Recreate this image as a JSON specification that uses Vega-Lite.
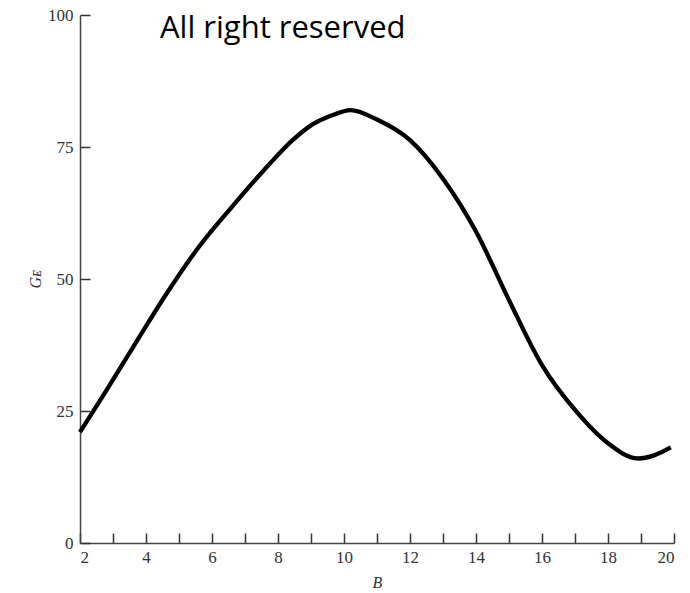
{
  "$schema": "https://vega.github.io/schema/vega-lite/v6.json",
  "autosize": {"type": "none"},
  "padding": {"left": 80, "top": 15, "right": 16, "bottom": 50},
  "width": 594,
  "height": 528,
  "background": "white",
  "title": {"text": "All right reserved", "anchor": "start", "frame": "group", "dx": 80, "dy": 63, "offset": 0, "baseline": "alphabetic", "font": "Open Sans", "fontSize": 31, "fontWeight": "normal", "color": "black"},
  "data": {"values": [
    {"B": 2, "G": 21},
    {"B": 2.81, "G": 29.0},
    {"B": 3.62, "G": 37.2},
    {"B": 4.63, "G": 47.3},
    {"B": 5.64, "G": 56.4},
    {"B": 6.65, "G": 64.0},
    {"B": 7.66, "G": 71.2},
    {"B": 8.41, "G": 76.1},
    {"B": 9, "G": 79.1},
    {"B": 9.6, "G": 80.9},
    {"B": 10.2, "G": 82},
    {"B": 11, "G": 80.2},
    {"B": 12, "G": 76.3},
    {"B": 13, "G": 69},
    {"B": 14, "G": 59},
    {"B": 15, "G": 46},
    {"B": 16, "G": 33.7},
    {"B": 17, "G": 25.2},
    {"B": 18, "G": 18.9},
    {"B": 18.9, "G": 16},
    {"B": 19.4, "G": 16.6},
    {"B": 19.9, "G": 18.1}
  ]},
  "mark": {"type": "line", "color": "black", "strokeWidth": 4.3, "interpolate": "monotone"},
  "encoding": {
    "x": {"field": "B", "type": "quantitative", "scale": {"domain": [2, 20], "nice": false, "zero": false},
      "axis": {"title": "B", "values": [2,3,4,5,6,7,8,9,10,11,12,13,14,15,16,17,18,19,20],
        "labelExpr": "datum.value % 2 == 0 ? datum.label : ''", "grid": false,
        "tickSize": -10, "tickColor": "#333", "domainColor": "#444", "domainWidth": 1.5, "tickWidth": 1.5,
        "labelFont": "Liberation Serif", "labelFontSize": 17, "labelColor": "#333", "labelPadding": 16,
        "titleFont": "Liberation Serif", "titleFontStyle": "italic", "titleFontWeight": "normal", "titleFontSize": 16, "titleColor": "#333", "titlePadding": 9}},
    "y": {"field": "G", "type": "quantitative", "scale": {"domain": [0, 100], "nice": false},
      "axis": {"title": "Gᴇ", "values": [0, 25, 50, 75, 100], "grid": false,
        "tickSize": -10, "tickColor": "#333", "domainColor": "#444", "domainWidth": 1.5, "tickWidth": 1.5,
        "labelFont": "Liberation Serif", "labelFontSize": 17, "labelColor": "#333", "labelPadding": 17,
        "titleFont": "Liberation Serif", "titleFontStyle": "italic", "titleFontWeight": "normal", "titleFontSize": 16, "titleColor": "#333", "titlePadding": 4}}
  },
  "config": {"view": {"stroke": null}}
}
